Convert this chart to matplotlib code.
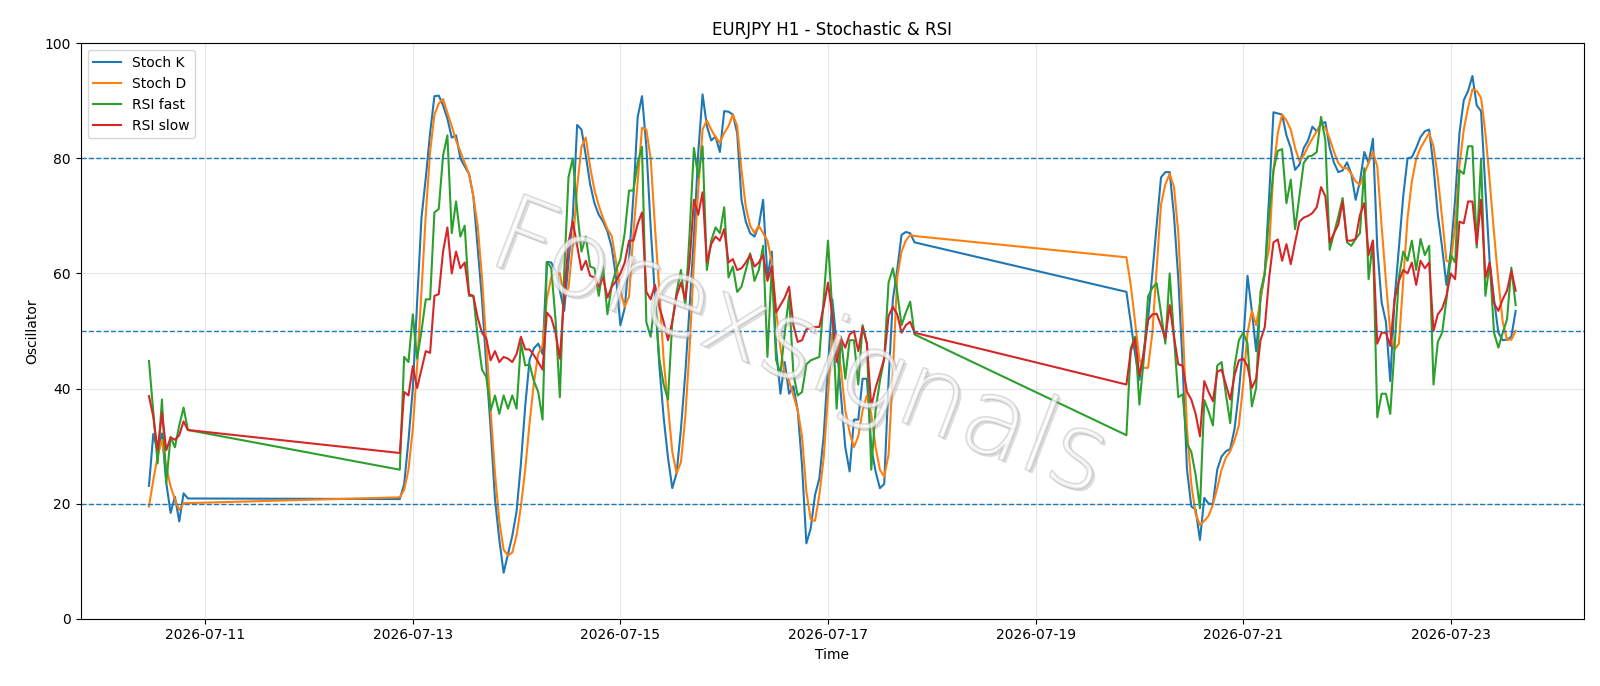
import numpy as np
import pandas as pd
import matplotlib
matplotlib.use("Agg")
import matplotlib.pyplot as plt
import matplotlib.dates as mdates
import matplotlib.patheffects as pe

# sessions (start hour, number of hourly bars)
session_starts = ["2026-07-10 11:00", "2026-07-12 21:00", "2026-07-19 21:00"]
session_lengths = [10, 120, 91]

stoch_k = [
    # Jul 10
    23.1, 32.1, 29.1, 32.2, 23.6, 18.4, 21.2, 16.9, 21.8, 20.9,
    # Jul 12 21:00 - Jul 17 20:00
    20.8, 23.4, 31, 40, 55, 69.6, 76.6, 84.4, 90.8, 90.9,
    89.2, 86.9, 83.6, 84, 80, 78.6, 77.3, 73.4, 64.5, 55.5,
    43.9, 33, 20.8, 13.8, 8, 11.2, 14.4, 18.7, 27, 37,
    45, 47, 47.8, 46, 62, 61.9, 60.5, 57, 53.5, 62,
    70, 85.8, 85, 80.5, 75.5, 72.2, 70.2, 69, 67.3, 64.5,
    59.3, 51, 54, 62.5, 73.4, 87.2, 90.8, 82, 68, 56,
    44, 35, 28, 22.7, 25.3, 33, 42.6, 54.2, 66.4, 81,
    91.1, 85.6, 83.1, 83.8, 81.1, 88.2, 88.1, 87.6, 84.4, 72.8,
    69, 67, 66.4, 68.3, 72.8, 59.3, 63.8, 47, 39.1, 44.6,
    39.1, 40.4, 36.2, 26.6, 13.1, 15.7, 21.5, 24.4, 31.7, 43.9,
    55.5, 47.8, 38.8, 29.8, 25.6, 34.6, 34.6, 41.7, 41.7, 29.8,
    25.6, 22.7, 23.4, 41.3, 55.5, 60.6, 66.7, 67.2, 67, 65.4,
    # Jul 19 21:00 - Jul 23 15:00
    56.8, 51.5, 46, 41.5, 46.5, 52, 60, 68.5, 76.7, 77.6,
    77.6, 70, 59, 44, 26, 19.5, 19, 13.7, 21, 20,
    20, 25.9, 28.2, 29.1, 29.5, 33, 39.4, 47.8, 59.6, 53.5,
    46.5, 55.5, 60, 73.4, 88, 87.8, 87.6, 84, 81.8, 78,
    78.9, 81.8, 83.1, 85.5, 84.7, 86, 86.3, 81.8, 79.2, 77.6,
    77.9, 79.3, 77.3, 72.8, 76, 81.1, 79.2, 83.4, 64.5, 55,
    51.6, 41.3, 55.5, 64.5, 73.4, 80, 80.2, 81.8, 83.7, 84.7,
    85, 78.6, 70.2, 64.5, 58, 63.8, 72.8, 84.4, 90.1, 91.7,
    94.3, 89.2, 88.2, 74.7, 61.9, 55.5, 49.7, 48.4, 48.5, 49,
    53.5,
]

stoch_d = [
    19.5, 24.1, 28.2, 31.1, 26.4, 23, 20.7, 18.9, 20.1, 20.1,
    21.1, 22.4, 25.9, 33, 43.9, 56.8, 70.2, 81.1, 87.6, 89.5,
    90.3, 87.9, 85.6, 83.1, 81.2, 79.2, 77.3, 73.4, 68.3, 59.3,
    47.8, 36.2, 25.3, 17, 12, 11, 11.5, 14.5, 19.5, 26,
    34, 41, 46, 47.5, 55.5, 59.3, 60, 60, 56.1, 57.5,
    65, 75, 82, 83.6, 78.5, 74.5, 71.8, 69.6, 67.7, 66.5,
    62, 57, 54.2, 56, 67, 76, 85.3, 85, 80, 68,
    57, 45, 37, 29, 25.3, 27.2, 35, 47, 62, 74.7,
    85, 86.6, 85, 83.7, 82.7, 84.4, 85.6, 87.6, 85.6, 78,
    71.5, 68.3, 67, 68.3, 67, 65.7, 62, 53.5, 47.1, 42.6,
    41.3, 38.8, 36.2, 31.7, 22.1, 17.3, 17, 21.5, 27.9, 38.8,
    49.7, 49, 43.3, 36.2, 32.4, 29.8, 31.7, 36.2, 38.8, 35.6,
    29.8, 25.9, 24.7, 28.5, 42.6, 59.3, 63.8, 65.7, 66.7, 66.5,
    62.8, 58, 51.6, 45, 43.6, 43.6, 49.7, 61, 72, 75.5,
    77.3, 75, 67, 51.6, 33, 23.4, 18.2, 16.3, 17, 17.9,
    19.8, 22.7, 25.9, 28, 29.1, 31, 33.6, 40.7, 49.7, 53.5,
    51, 55.5, 60.6, 64.5, 77.9, 84.4, 87.6, 86.6, 85, 81.8,
    79.5, 80.5, 82.1, 83.4, 84.7, 86, 85.3, 83.4, 81.1, 79.2,
    78.3, 78.3, 77.3, 76, 75.4, 77.3, 79.2, 81.1, 78.6, 68.3,
    58.7, 49.7, 46.8, 47.8, 58.7, 69.6, 76, 79.9, 81.8, 83.1,
    84.4, 82.1, 76.7, 69.6, 62.2, 61.9, 68.3, 78.6, 85, 88.8,
    92, 91.7, 90.5, 84.4, 76, 67, 58.7, 51.6, 48.5, 48.5,
    50,
]

rsi_fast = [
    44.8, 35.9, 27, 38.1, 23.6, 31.6, 29.8, 33.6, 36.7, 32.8,
    25.9, 45.5, 44.6, 52.9, 45.2, 50, 55.5, 55.5, 70.6, 71.2,
    80.5, 84, 67, 72.5, 66.4, 68.3, 56.1, 56.1, 49, 43.3,
    42, 36.2, 38.8, 35.6, 38.8, 36.5, 38.8, 36.5, 48, 44,
    44.2, 41.3, 39.4, 34.6, 62, 61, 52, 38.5, 60, 76.7,
    80, 71, 63.8, 66.4, 61.2, 60.9, 56.1, 61.2, 52.9, 58,
    60.6, 62.5, 67, 74.4, 74.4, 79.2, 82, 51.5, 49, 55.5,
    45.2, 40.7, 38.1, 51.6, 56.8, 60.6, 54.2, 67, 81.8, 76.7,
    82.1, 60.6, 65.7, 68, 67, 71.5, 59.3, 61.2, 56.8, 57.7,
    60.6, 63.5, 58.7, 60.6, 64.8, 45.5, 61.2, 45, 42.6, 49.7,
    56.1, 42.6, 38.8, 39.4, 44.2, 44.9, 45.2, 45.5, 55.5, 65.7,
    53.5, 36.5, 49, 41.7, 48.4, 48.4, 40.7, 51, 47.8, 25.9,
    36.2, 41.3, 45.2, 58.4, 60.9, 56.8, 51, 53.2, 55.1, 49.4,
    31.9, 47, 49, 37.2, 45, 56, 57.5, 58.3, 53, 47.8,
    60, 49, 38.5, 39, 30.4, 29, 25, 19.2, 38, 36,
    33.6, 44, 44.6, 39, 34, 43.9, 48.4, 49.7, 47.8, 36.9,
    40.1, 56.8, 60, 70.2, 77.9, 81.3, 81.6, 72.2, 76.3, 67.7,
    73.4, 79.2, 80.3, 80.5, 81.1, 87.2, 83.1, 64.1, 67, 69.9,
    73.1, 65.4, 64.8, 66, 67, 78.3, 59, 65.7, 35, 39.1,
    39.1, 35.6, 47.1, 59.3, 63.8, 62.2, 65.7, 60.6, 66, 63.2,
    64.8, 40.7, 48.1, 49.7, 55.5, 63.2, 61.9, 77.9, 77.3, 82.1,
    82.1, 64.5, 79.9, 56.1, 61.9, 49.7, 47.1, 49.7, 52, 61,
    54.5,
]

rsi_slow = [
    38.7, 35.1, 29.3, 35.8, 29.3, 31.5, 31.1, 31.9, 34.3, 32.8,
    28.8, 39.4, 38.8, 43.9, 40.1, 43.3, 46.5, 46.2, 56.1, 56.4,
    63.8, 68, 60, 63.8, 60.9, 61.9, 56.4, 56.1, 52.3, 49.7,
    48.7, 44.9, 46.5, 44.6, 45.5, 45.2, 44.6, 46, 49, 46.8,
    46.8, 45.8, 44.6, 43.3, 53.2, 52.3, 49.7, 45.2, 56, 65.4,
    69, 64.8, 60.6, 62.2, 59.6, 59.3, 57.7, 59.3, 55.8, 57.7,
    58.7, 60, 61.9, 65.7, 65.7, 68.6, 70.6, 56.8, 55.5, 58,
    54.2, 51.6, 48.4, 51.6, 56.1, 58.4, 55.5, 61.9, 72.8, 70.2,
    74.1, 61.9, 65.1, 66.4, 65.7, 67.7, 61.9, 62.5, 60.6, 60.9,
    61.9, 63.2, 61.2, 61.9, 63.2, 58.7, 61.2, 53.2, 54.5, 55.8,
    57.7, 51, 48.1, 48.4, 50.3, 50.5, 50.7, 50.7, 54.2, 58.4,
    52.6, 44.6, 48.7, 47.1, 49.4, 50, 46.5, 50.7, 47.8, 36.9,
    40.1, 42.6, 45.2, 52.6, 54.2, 52.9, 49.7, 51, 51.6, 49.7,
    40.7, 46.5, 48.7, 42.3, 45.8, 51.9, 52.9, 53, 51, 48.7,
    54.5, 49, 44.2, 44, 39.4, 38.1, 35.6, 31.7, 41.3, 39.4,
    37.8, 42.9, 43.3, 40.7, 38.1, 42.3, 44.9, 45.2, 43.9, 40.1,
    41.7, 48.4, 50.7, 59.3, 65.4, 65.9, 62.2, 65.1, 61.6, 65.4,
    69, 69.7, 70, 70.5, 71.5, 75, 73.4, 65.4, 67, 68.5,
    72.5, 65.7, 65.7, 66, 70.2, 72.2, 63.2, 65.7, 47.8, 49.7,
    49.7, 47.4, 55.5, 58.7, 60.6, 60, 61.9, 58, 62.2, 60.9,
    61.9, 50, 52.9, 53.9, 56.1, 60, 59, 69, 68.7, 72.5,
    72.5, 65.1, 72.8, 59.3, 61.9, 54.8, 53.5, 55.5, 57, 60.5,
    57,
]

# hourly timestamps, market closed at the weekend
times = pd.DatetimeIndex(np.concatenate([
    pd.date_range(s, periods=n, freq="h").values
    for s, n in zip(session_starts, session_lengths)
]))

fig, ax = plt.subplots(figsize=(16, 6.86), dpi=100)
fig.subplots_adjust(left=0.0504, right=0.99, top=0.937, bottom=0.098)

ax.plot(times, stoch_k, label="Stoch K", lw=1.5)
ax.plot(times, stoch_d, label="Stoch D", lw=1.5)
ax.plot(times, rsi_fast, label="RSI fast", lw=1.5)
ax.plot(times, rsi_slow, label="RSI slow", lw=1.5)

for lvl in (20, 50, 80):
    ax.axhline(lvl, color="C0", linestyle="--", linewidth=1)

ax.set_ylim(0, 100)
ax.grid(True, alpha=0.3)
ax.xaxis.set_major_locator(mdates.DayLocator(interval=2))
ax.xaxis.set_major_formatter(mdates.DateFormatter("%Y-%m-%d"))

ax.set_title("EURJPY H1 - Stochastic & RSI")
ax.set_xlabel("Time")
ax.set_ylabel("Oscillator")
ax.legend(loc="upper left")

# watermark: thin hollow grey letters with a soft shadow
ax.text(0.478, 0.465, "Forexsignals", transform=ax.transAxes,
        fontsize=76, fontweight="light", color="white", alpha=0.5, rotation=-21,
        ha="center", va="center", zorder=5,
        path_effects=[pe.SimplePatchShadow(offset=(2, -2), shadow_rgbFace="#909090", alpha=0.3),
                      pe.withStroke(linewidth=1.5, foreground="#b0b0b0")])

fig.savefig("out.png", dpi=100)
